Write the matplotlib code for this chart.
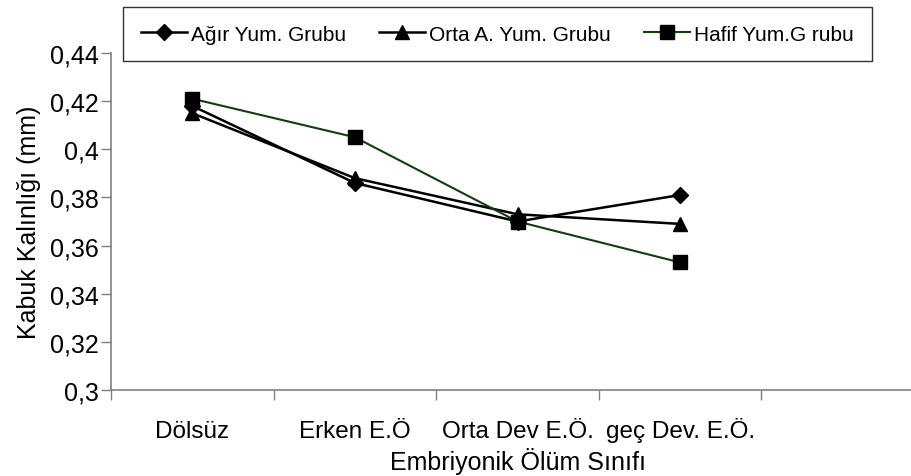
import matplotlib
matplotlib.use('Agg')
import matplotlib.pyplot as plt
from matplotlib.ticker import FixedLocator, FuncFormatter

plt.rcParams['font.family'] = ['Liberation Sans', 'DejaVu Sans']

# data
categories = ['Dölsüz', 'Erken E.Ö', 'Orta Dev E.Ö.', 'geç Dev. E.Ö.']
agir = [0.418, 0.386, 0.370, 0.381]
orta = [0.415, 0.388, 0.373, 0.369]
hafif = [0.421, 0.405, 0.370, 0.353]
y_ticks = [0.30, 0.32, 0.34, 0.36, 0.38, 0.40, 0.42, 0.44]

W, H = 911, 477
fig = plt.figure(figsize=(W / 100, H / 100), dpi=100)
ax = fig.add_axes([111 / W, 1 - 391 / H, (W - 111) / W, (391 - 54) / H])

x = list(range(len(categories)))
ax.plot(x, agir, color='black', lw=1.8, marker='D', ms=8, mfc='black', mec='black',
        label='Ağır Yum. Grubu')
ax.plot(x, orta, color='black', lw=1.8, marker='^', ms=9.5, mfc='black', mec='black',
        label='Orta A. Yum. Grubu')
ax.plot(x, hafif, color='#0d400d', lw=1.5, marker='s', ms=9.5, mfc='black', mec='black',
        label='Hafif Yum.G rubu')

ax.set_ylim(0.30, 0.44)
ax.set_xlim(-0.5, 4.42)
ax.yaxis.set_major_locator(FixedLocator(y_ticks))
ax.yaxis.set_major_formatter(FuncFormatter(lambda v, p: f'{v:g}'.replace('.', ',')))

# category slots: ticks on boundaries, labels centred
ax.set_xticks([i - 0.5 for i in range(5)])
ax.set_xticklabels([])
ax.set_xticks(x, minor=True)
ax.set_xticklabels(categories, minor=True, fontsize=17.5)
for lbl in ax.get_xticklabels(minor=True):
    lbl.set_verticalalignment('baseline')
ax.tick_params(axis='x', which='minor', length=0, pad=33.5)
ax.tick_params(axis='x', which='major', length=7, width=1, color='#808080', direction='out')
ax.tick_params(axis='y', length=7, width=1, color='#808080', labelsize=18, pad=2)

for s in ['top', 'right']:
    ax.spines[s].set_visible(False)
for s in ['left', 'bottom']:
    ax.spines[s].set_color('#808080')
    ax.spines[s].set_linewidth(1.2)

ax.set_ylabel('Kabuk Kalınlığı (mm)', fontsize=18, labelpad=6)
fig.text(518 / W, 1 - 470 / H, 'Embriyonik Ölüm Sınıfı', fontsize=18,
         ha='center', va='baseline')

leg = fig.legend(loc='upper left', bbox_to_anchor=(123 / W, 1 - 8 / H), ncol=3,
                 fontsize=15, frameon=True, fancybox=False, handlelength=2.2,
                 handletextpad=0.2, columnspacing=1.6, borderpad=0.85,
                 borderaxespad=0)
leg.get_frame().set_edgecolor('black')
leg.get_frame().set_linewidth(1.0)

fig.savefig('out.png', dpi=100)
